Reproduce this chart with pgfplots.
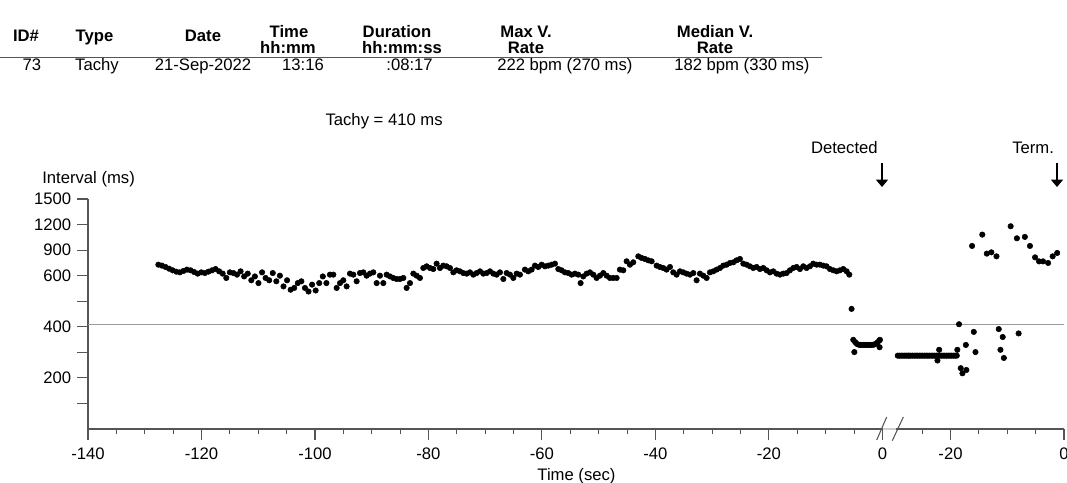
\documentclass[border=0pt]{standalone}
\usepackage{fontspec}
\setmainfont{Liberation Sans}
\usepackage{pgfplots}
\usepackage{pgfplotstable}
\pgfplotsset{compat=1.18}
\usetikzlibrary{arrows.meta}
\definecolor{axisgray}{HTML}{555555}
\definecolor{refgray}{HTML}{9A9A9A}

% intervals (ms) against time from detection (s)
\pgfplotstableread{
t v
-127.60 729
-126.97 718
-126.34 702
-125.71 682
-125.08 663
-124.45 647
-123.82 639
-123.19 655
-122.56 671
-121.93 663
-121.30 643
-120.67 624
-120.04 639
-119.41 631
-118.78 647
-118.15 663
-117.52 678
-116.89 651
-116.26 624
-115.63 591
-115.00 639
-114.37 631
-113.74 612
-113.11 651
-112.48 597
-111.85 624
-111.22 582
-110.59 597
-109.96 571
-109.33 639
-108.70 591
-108.07 582
-107.44 631
-106.81 578
-106.18 600
-105.55 558
-104.92 582
-104.29 545
-103.66 552
-103.03 571
-102.40 578
-101.77 552
-101.14 538
-100.51 565
-99.88 542
-99.25 571
-98.62 597
-97.99 571
-97.36 612
-96.77 612
-96.18 552
-95.59 571
-95.01 582
-94.42 558
-93.83 624
-93.24 612
-92.66 578
-92.07 631
-91.48 639
-90.90 600
-90.31 624
-89.72 639
-89.13 571
-88.55 600
-87.96 571
-87.37 612
-86.78 597
-86.20 591
-85.61 587
-85.02 587
-84.43 591
-83.85 552
-83.26 571
-82.67 624
-82.08 600
-81.50 591
-80.91 690
-80.32 710
-79.73 690
-79.15 678
-78.56 741
-77.97 690
-77.39 718
-76.80 710
-76.21 690
-75.62 639
-75.04 663
-74.45 651
-73.86 631
-73.27 624
-72.69 639
-72.10 612
-71.51 631
-70.92 651
-70.34 624
-69.75 631
-69.16 651
-68.57 624
-67.99 612
-67.40 639
-66.81 587
-66.22 631
-65.64 612
-65.05 591
-64.46 624
-63.88 612
-63.00 671
-62.41 651
-61.82 671
-61.23 718
-60.65 702
-60.06 729
-59.47 710
-58.88 718
-58.30 729
-57.71 741
-57.12 678
-56.54 663
-55.95 639
-55.36 631
-54.77 612
-54.19 624
-53.60 612
-53.19 571
-52.72 597
-52.13 624
-51.54 639
-50.95 612
-50.37 591
-49.78 600
-49.19 631
-48.60 600
-48.02 591
-47.43 591
-46.84 591
-46.26 671
-45.67 663
-45.08 769
-44.49 729
-43.91 757
-43.02 827
-42.44 808
-41.85 796
-41.26 780
-40.67 769
-39.79 718
-39.21 702
-38.62 690
-38.03 671
-37.44 702
-36.86 639
-36.27 612
-35.68 651
-35.10 639
-34.51 624
-33.92 612
-33.33 631
-32.75 582
-32.16 624
-31.57 600
-30.98 591
-30.40 639
-29.81 651
-29.22 671
-28.63 690
-28.05 718
-27.46 729
-26.87 749
-26.28 757
-25.70 780
-25.11 796
-24.52 741
-23.93 729
-23.35 710
-22.76 690
-22.17 702
-21.59 678
-21.00 690
-20.41 663
-19.82 639
-19.24 651
-18.65 624
-18.06 612
-17.47 624
-16.89 631
-16.30 663
-15.71 690
-15.12 702
-14.54 678
-13.95 710
-13.36 690
-12.77 710
-12.19 741
-11.60 729
-11.01 729
-10.42 718
-9.84 710
-9.25 678
-8.66 663
-8.07 651
-7.49 663
-6.90 678
-6.31 651
-5.84 612
-5.44 470
-5.14 349
-4.95 301
-4.80 340
-4.50 333
-4.20 330
-3.90 329
-3.60 329
-3.30 329
-3.00 329
-2.70 329
-2.40 329
-2.10 329
-1.80 329
-1.50 330
-1.20 333
-0.90 338
-0.60 345
-0.44 349
-0.50 320
}\detdata

% intervals (ms) against time from termination (s)
\pgfplotstableread{
t v
-29.3 287
-29.0 287
-28.7 287
-28.4 287
-28.1 287
-27.8 287
-27.5 287
-27.3 287
-27.0 287
-26.7 287
-26.4 287
-26.1 287
-25.8 287
-25.5 287
-25.2 287
-24.9 287
-24.6 287
-24.3 287
-24.0 287
-23.7 287
-23.4 287
-23.1 287
-22.8 287
-22.5 287
-22.2 287
-21.9 287
-21.6 287
-21.3 287
-21.0 287
-20.7 287
-20.4 287
-20.1 287
-19.8 287
-19.5 287
-19.2 287
-18.9 287
-22.0 310
-22.3 268
-18.8 310
-18.5 410
-18.2 238
-17.9 218
-17.3 329
-17.2 231
-16.2 949
-15.9 380
-15.6 301
-14.4 1082
-13.6 859
-12.8 874
-11.9 827
-11.5 391
-11.2 310
-10.8 360
-10.6 278
-9.4 1180
-8.3 1039
-8.0 374
-6.9 1055
-6.0 949
-5.1 815
-4.4 768
-3.7 768
-2.8 749
-2.0 827
-1.2 867
}\termdata

\begin{document}
\fontsize{12.5}{15}\selectfont%
\begin{tikzpicture}
\path[use as bounding box] (0,0) rectangle (800.25pt,-361.5pt);
\begin{axis}[
    at={(66pt,-321.75pt)}, anchor=south west,
    scale only axis, width=732pt, height=172.5pt,
    xmin=-140, xmax=32, ymin=0, ymax=1500,
    y coord trafo/.code={\pgfmathparse{#1>600 ? 600+(#1-600)/3 : #1}},
    axis lines*=left,
    axis line style={-, draw=axisgray, line width=0.9pt},
    tick align=outside,
    major tick length=8.25pt, minor tick length=4pt,
    tick style={axisgray, line width=0.8pt},
    xtick={-140,-120,-100,-80,-60,-40,-20,0,12,32},
    xticklabels={-140,-120,-100,-80,-60,-40,-20,0,-20,0},
    minor xtick={-135,-130,...,-5,7,17,22,27},
    ytick={100,200,300,400,500,600,900,1200,1500},
    yticklabels={,200,,400,,600,900,1200,1500},
    xticklabel style={yshift=-1.5pt},
    clip=false,
]
\addplot[refgray, line width=0.75pt] coordinates {(-140,410) (32,410)};
\addplot[only marks, mark=*, mark size=2.05pt, black] table[x=t, y=v] {\detdata};
\addplot[only marks, mark=*, mark size=2.05pt, black] table[x expr=\thisrow{t}+32, y=v] {\termdata};
\end{axis}
\begin{scope}[x=0.75pt, y=-0.75pt, every node/.style={inner sep=0pt}]
% table
\node[anchor=base, font=\bfseries] at (26,41) {ID\#};
\node[anchor=base, font=\bfseries] at (94.5,41) {Type};
\node[anchor=base, font=\bfseries] at (203,41) {Date};
\node[anchor=base, font=\bfseries] at (289,37) {Time};
\node[anchor=base, font=\bfseries] at (288,53) {hh:mm};
\node[anchor=base, font=\bfseries] at (397,37) {Duration};
\node[anchor=base, font=\bfseries] at (402,53) {hh:mm:ss};
\node[anchor=base, font=\bfseries] at (526,37) {Max V.};
\node[anchor=base, font=\bfseries] at (526,53) {Rate};
\node[anchor=base, font=\bfseries] at (715,37) {Median V.};
\node[anchor=base, font=\bfseries] at (715,53) {Rate};
\draw[axisgray, line width=1.2pt] (0,57.5) -- (822,57.5);
\node[anchor=base] at (32,70) {73};
\node[anchor=base] at (97,70) {Tachy};
\node[anchor=base] at (203,70) {21-Sep-2022};
\node[anchor=base] at (303,70) {13:16};
\node[anchor=base east] at (433,70) {:08:17};
\node[anchor=base west] at (497,70) {222 bpm (270 ms)};
\node[anchor=base west] at (674,70) {182 bpm (330 ms)};
% annotations
\node[anchor=base east] at (443,125) {Tachy = 410 ms};
\node[anchor=base east] at (878,153) {Detected};
\node[anchor=base west] at (1012,153) {Term.};
\draw[line width=0.9pt, -{Triangle[width=9pt,length=5.5pt]}] (882,163) -- (882,187);
\draw[line width=0.9pt, -{Triangle[width=9pt,length=5.5pt]}] (1057,163) -- (1057,187);
\node[anchor=base west] at (42,183) {Interval (ms)};
\node[anchor=base] at (576.5,480) {Time (sec)};
% axis break
\fill[white] (883,425) rectangle (896,433);
\draw[refgray!50, line width=0.9pt] (883,429) -- (896,429);
\draw[axisgray, line width=0.8pt] (876.7,440) -- (886.7,417);
\draw[axisgray, line width=0.8pt] (892.3,440.7) -- (903.3,417);
\end{scope}
\end{tikzpicture}
\end{document}
